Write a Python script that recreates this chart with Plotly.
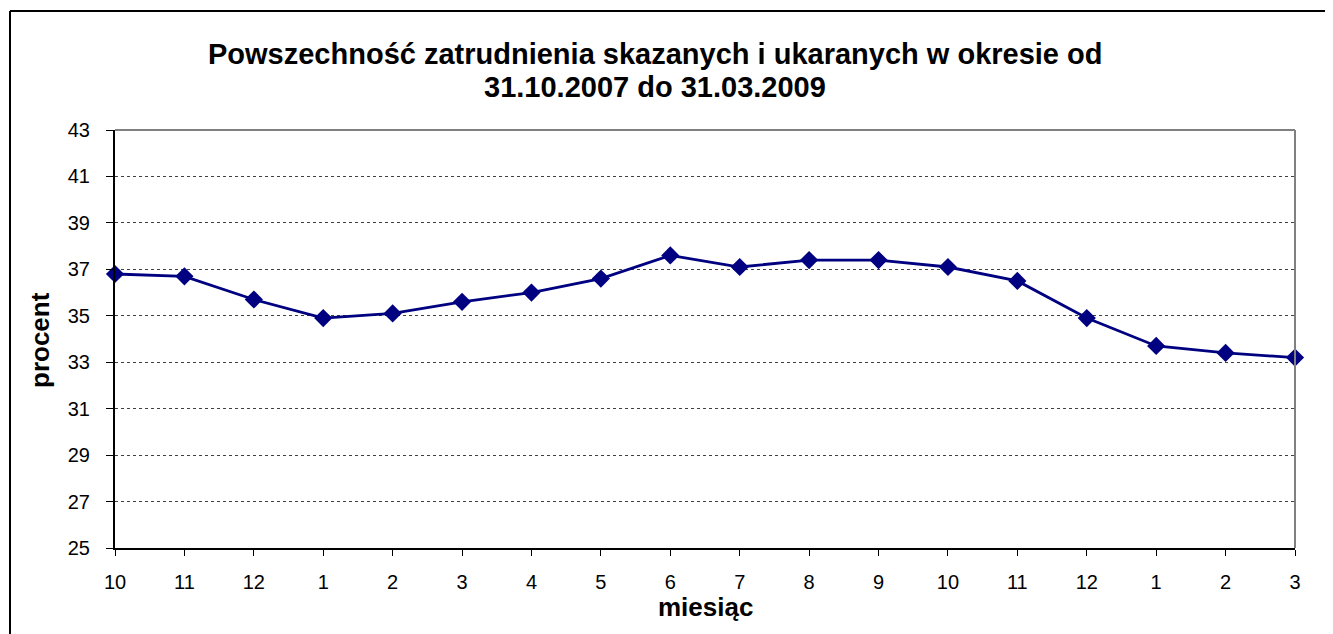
import plotly.graph_objects as go

months = ["10", "11", "12", "1", "2", "3", "4", "5", "6", "7", "8", "9", "10", "11", "12", "1", "2", "3"]
values = [36.8, 36.7, 35.7, 34.9, 35.1, 35.6, 36.0, 36.6, 37.6, 37.1, 37.4, 37.4, 37.1, 36.5, 34.9, 33.7, 33.4, 33.2]
y_ticks = [25, 27, 29, 31, 33, 35, 37, 39, 41, 43]
title_lines = ["Powszechność zatrudnienia skazanych i ukaranych w okresie od",
               "31.10.2007 do 31.03.2009"]
x_title = "miesiąc"
y_title = "procent"

xs = list(range(len(months)))
FONT = "Liberation Sans, Arial, sans-serif"

# page body has an 8px margin; figure drawn from (8, 8)
OFF = 8
W, H = 1333 - OFF, 634 - OFF
L, T = 115 - OFF, 130 - OFF
pw, ph = 1180, 418
R, B = W - L - pw, H - T - ph


def px_x(sx):
    return (sx - OFF - L) / pw


def px_y(sy):
    return (T + ph - (sy - OFF)) / ph


fig = go.Figure()
fig.add_trace(go.Scatter(
    x=xs, y=values, mode="lines+markers",
    line=dict(color="#000080", width=2.8),
    marker=dict(symbol="diamond", size=14, color="#000080"),
    cliponaxis=False, showlegend=False,
))

fig.update_layout(
    width=W, height=H,
    margin=dict(l=L, r=R, t=T, b=B),
    paper_bgcolor="white", plot_bgcolor="white",
    font=dict(family=FONT, color="black", size=20),
    xaxis=dict(
        range=[0, len(months) - 1], tickmode="array", tickvals=xs, ticktext=months,
        showgrid=False, zeroline=False, showline=True, linecolor="black", linewidth=2,
        ticks="outside", ticklen=6, tickcolor="black", tickwidth=1,
        tickfont=dict(size=20, family=FONT), ticklabelstandoff=9,
    ),
    yaxis=dict(
        range=[25, 43], tickmode="array", tickvals=y_ticks,
        showgrid=True, gridcolor="#404040", griddash="dot", gridwidth=1,
        zeroline=False, showline=True, linecolor="black", linewidth=2,
        ticks="outside", ticklen=7, tickcolor="black", tickwidth=1,
        tickfont=dict(size=20, family=FONT), ticklabelstandoff=12,
    ),
)

# title lines
for txt, sy in zip(title_lines, [54, 87]):
    fig.add_annotation(text="<b>" + txt + "</b>", xref="paper", yref="paper",
                       x=px_x(655), y=px_y(sy), xanchor="center", yanchor="middle",
                       showarrow=False, font=dict(size=29, family=FONT, color="black"))
# axis titles
fig.add_annotation(text="<b>" + x_title + "</b>", xref="paper", yref="paper",
                   x=px_x(705), y=px_y(607), xanchor="center", yanchor="middle",
                   showarrow=False, font=dict(size=26, family=FONT, color="black"))
fig.add_annotation(text="<b>" + y_title + "</b>", xref="paper", yref="paper",
                   x=px_x(40), y=px_y(340), xanchor="center", yanchor="middle",
                   textangle=-90, showarrow=False, font=dict(size=26, family=FONT, color="black"))

# plot area top and right borders (grey)
fig.add_shape(type="line", xref="paper", yref="paper", x0=0, x1=1, y0=1, y1=1,
              line=dict(color="#808080", width=2))
fig.add_shape(type="line", xref="paper", yref="paper", x0=1, x1=1, y0=0, y1=1,
              line=dict(color="#808080", width=2))
# outer chart border (left and top edges visible)
fig.add_shape(type="line", xref="paper", yref="paper",
              x0=px_x(10), x1=px_x(1360), y0=px_y(11), y1=px_y(11),
              line=dict(color="black", width=2), layer="below")
fig.add_shape(type="line", xref="paper", yref="paper",
              x0=px_x(10), x1=px_x(10), y0=px_y(660), y1=px_y(11),
              line=dict(color="black", width=2), layer="below")

fig.write_html("out.html")
